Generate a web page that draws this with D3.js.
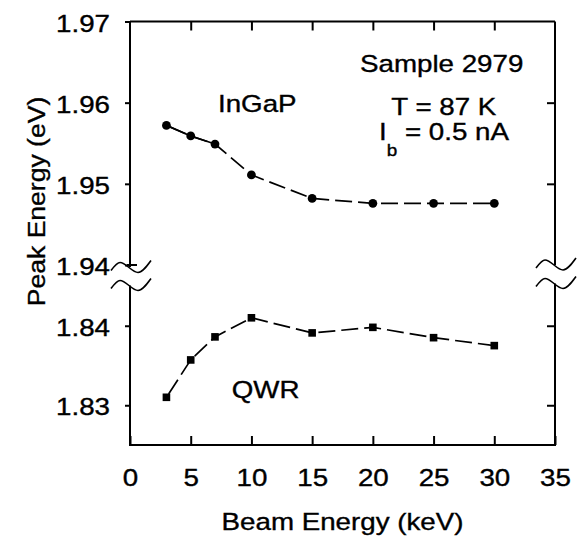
<!DOCTYPE html>
<html>
<head>
<meta charset="utf-8">
<script src="https://cdn.jsdelivr.net/npm/d3@7"></script>
<style>
    body { margin: 0; background: #fff; }
    svg text { font-family: "Liberation Sans", Arial, sans-serif; font-size: 23.5px; fill: #000; stroke: #000; stroke-width: 0.35px; }
</style>
</head>
<body>
<svg id="chart" width="582" height="537"></svg>
<script>
// values
const beamEnergy = [3, 5, 7, 10, 15, 20, 25, 30];
const ingapPeak = [1.9572, 1.9559, 1.9549, 1.9511, 1.9482, 1.9476, 1.9476, 1.9476];
const qwrPeak = [1.8310, 1.8357, 1.8386, 1.8410, 1.8391, 1.8398, 1.8385, 1.8375];
const xTicks = [0, 5, 10, 15, 20, 25, 30, 35];
const upperTicks = [1.94, 1.95, 1.96, 1.97];
const lowerTicks = [1.83, 1.84];

const pLeft = 130, pRight = 555, pTop = 21.5, pBottom = 445;
const stretch = 1.18;

var svg = d3.select("#chart");
svg.append("rect").attr("width", 582).attr("height", 537).attr("fill", "#fff");

var x = d3.scaleLinear().domain([0, 35]).range([pLeft, pRight]);
var yUp = d3.scaleLinear().domain([1.94, 1.97]).range([265, pTop]);
var yLow = d3.scaleLinear().domain([1.825, 1.845]).range([pBottom, 286]);

function label(txt, px, py, anchor) {
    return svg.append("text")
        .attr("transform", "translate(" + px + "," + py + ") scale(" + stretch + ",1)")
        .attr("text-anchor", anchor)
        .text(txt);
}

// frame lines (left/right broken between the wiggles)
var frame = svg.append("g").attr("stroke", "#000").attr("stroke-width", 2).attr("fill", "none");
frame.append("line").attr("x1", pLeft).attr("x2", pRight).attr("y1", pTop).attr("y2", pTop);
frame.append("line").attr("x1", pLeft - 1).attr("x2", pRight + 1).attr("y1", pBottom).attr("y2", pBottom);
frame.append("line").attr("x1", pLeft).attr("x2", pLeft).attr("y1", pTop).attr("y2", 267);
frame.append("line").attr("x1", pLeft).attr("x2", pLeft).attr("y1", 285.5).attr("y2", pBottom);
frame.append("line").attr("x1", pRight).attr("x2", pRight).attr("y1", pTop).attr("y2", 265);
frame.append("line").attr("x1", pRight).attr("x2", pRight).attr("y1", 283.5).attr("y2", pBottom);

// bottom axis: inward ticks
var xAxis = svg.append("g")
    .attr("transform", "translate(0," + pBottom + ")")
    .call(d3.axisBottom(x).tickValues(xTicks).tickSize(-9).tickFormat(d3.format("d")));
xAxis.select(".domain").remove();
xAxis.selectAll("line").attr("stroke-width", 2);
xAxis.selectAll("text")
    .attr("y", 0).attr("dy", null)
    .attr("transform", "translate(0,40.7) scale(" + stretch + ",1)")
    .style("font-size", "23.5px").style("font-family", "'Liberation Sans', Arial, sans-serif");

// top axis: inward ticks, no labels
var xTop = svg.append("g")
    .attr("transform", "translate(0," + pTop + ")")
    .call(d3.axisTop(x).tickValues(xTicks.slice(1, -1)).tickSize(-9).tickFormat(""));
xTop.select(".domain").remove();
xTop.selectAll("line").attr("stroke-width", 2);

// left axes: outward ticks with labels
function leftAxis(scale, ticks) {
    var g = svg.append("g")
        .attr("transform", "translate(" + pLeft + ",0)")
        .call(d3.axisLeft(scale).tickValues(ticks).tickSize(5).tickFormat(d3.format(".2f")));
    g.select(".domain").remove();
    g.selectAll("line").attr("stroke-width", 2);
    g.selectAll("text")
        .attr("x", 0).attr("dy", null)
        .attr("transform", "translate(-20,9.5) scale(" + stretch + ",1)")
        .style("font-size", "23.5px").style("font-family", "'Liberation Sans', Arial, sans-serif");
    return g;
}
leftAxis(yUp, upperTicks);
leftAxis(yLow, lowerTicks);
// 1.94 tick crosses into the plot
svg.append("line").attr("x1", pLeft - 3).attr("x2", pLeft + 7)
    .attr("y1", yUp(1.94)).attr("y2", yUp(1.94)).attr("stroke", "#000").attr("stroke-width", 2);

// right axes: inward ticks
function rightAxis(scale, ticks) {
    var g = svg.append("g")
        .attr("transform", "translate(" + pRight + ",0)")
        .call(d3.axisRight(scale).tickValues(ticks).tickSize(-8).tickFormat(""));
    g.select(".domain").remove();
    g.selectAll("line").attr("stroke-width", 2);
}
rightAxis(yUp, [1.95, 1.96]);
rightAxis(yLow, lowerTicks);

// axis break wiggles
const wiggle = [[-19, 5], [-10, -3], [8, 7], [21, -5]];
var wave = d3.line().curve(d3.curveMonotoneX);
[[pLeft, 265.5], [pLeft, 283.5], [pRight, 263], [pRight, 281.5]].forEach(function(c) {
    svg.append("path")
        .attr("d", wave(wiggle.map(function(p) { return [c[0] + p[0], c[1] + p[1]]; })))
        .attr("fill", "none").attr("stroke", "#000").attr("stroke-width", 1.6);
});

// data lines: solid over the first close points, long dashes after
var ingapLine = d3.line().x(function(d, i) { return x(beamEnergy[i]); }).y(function(d) { return yUp(d); });
var qwrLine = d3.line().x(function(d, i) { return x(beamEnergy[i]); }).y(function(d) { return yLow(d); });

svg.append("path").attr("d", ingapLine(ingapPeak.slice(0, 3)))
    .attr("fill", "none").attr("stroke", "#000").attr("stroke-width", 1.7);
svg.append("path").attr("d", ingapLine(ingapPeak))
    .attr("fill", "none").attr("stroke", "#000").attr("stroke-width", 1.7)
    .attr("stroke-dasharray", "17,6").attr("stroke-dashoffset", -4);
svg.append("path").attr("d", qwrLine(qwrPeak))
    .attr("fill", "none").attr("stroke", "#000").attr("stroke-width", 1.7)
    .attr("stroke-dasharray", "17,6").attr("stroke-dashoffset", -4);

svg.selectAll("circle.ingap")
    .data(ingapPeak)
    .enter()
    .append("circle")
    .attr("class", "ingap")
    .attr("cx", function(d, i) { return x(beamEnergy[i]); })
    .attr("cy", function(d) { return yUp(d); })
    .attr("r", 4.4)
    .attr("fill", "#000");

svg.selectAll("rect.qwr")
    .data(qwrPeak)
    .enter()
    .append("rect")
    .attr("class", "qwr")
    .attr("x", function(d, i) { return x(beamEnergy[i]) - 3.8; })
    .attr("y", function(d) { return yLow(d) - 3.8; })
    .attr("width", 7.6)
    .attr("height", 7.6)
    .attr("fill", "#000");

// annotations
label("InGaP", 218, 111.7, "start");
label("QWR", 231.7, 398.3, "start");
label("Sample 2979", 441.7, 71.7, "middle");
label("T = 87 K", 443.8, 115, "middle");
var ib = label("", 379, 140, "start");
ib.append("tspan").text("I");
ib.append("tspan").attr("dy", 16).style("font-size", "16px").text("b");
ib.append("tspan").attr("dy", -16).text(" = 0.5 nA");

// axis titles
label("Beam Energy (keV)", 342.5, 530, "middle");
svg.append("text")
    .attr("transform", "translate(45,201.5) rotate(-90) scale(1.13,1)")
    .attr("text-anchor", "middle")
    .text("Peak Energy (eV)");
</script>
</body>
</html>
